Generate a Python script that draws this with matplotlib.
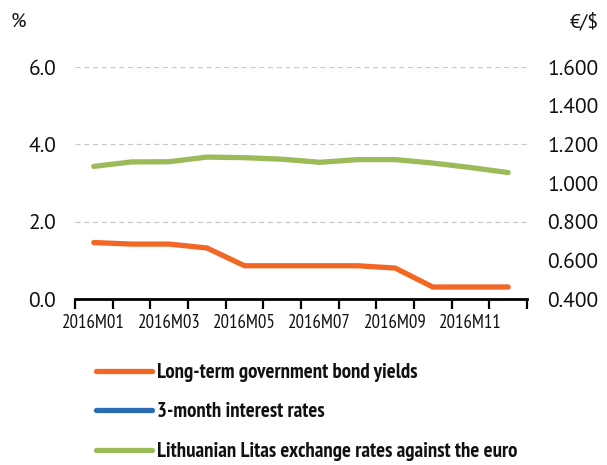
import matplotlib
matplotlib.use("Agg")
import matplotlib.pyplot as plt
from matplotlib import font_manager
import numpy as np

# Monthly series, 2016
months = ["2016M01", "2016M02", "2016M03", "2016M04", "2016M05", "2016M06",
          "2016M07", "2016M08", "2016M09", "2016M10", "2016M11", "2016M12"]
bond_yields = [1.46, 1.42, 1.42, 1.32, 0.86, 0.86, 0.86, 0.86, 0.80, 0.31, 0.31, 0.31]
rates_3m = [np.nan] * 12
exchange_rate = [1.086, 1.109, 1.110, 1.134, 1.131, 1.123, 1.107, 1.121, 1.121, 1.103, 1.080, 1.054]

left_ticks = [0.0, 2.0, 4.0, 6.0]
right_ticks = [0.4, 0.6, 0.8, 1.0, 1.2, 1.4, 1.6]

series_labels = ["Long-term government bond yields",
                 "3-month interest rates",
                 "Lithuanian Litas exchange rates against the euro"]
colors = ["#f26726", "#2a6db5", "#9bbb59"]

installed = {f.name for f in font_manager.fontManager.ttflist}


def pick(*candidates):
    for c in candidates:
        if c in installed:
            return c
    return "DejaVu Sans"


narrow = pick("PT Sans Narrow", "Fira Sans Condensed", "Roboto Condensed", "Liberation Sans Narrow")
regular = pick("PT Sans", "Open Sans", "Source Sans Pro")
plt.rcParams["font.family"] = [regular, "DejaVu Sans"]
plt.rcParams["text.color"] = "#111111"

fig = plt.figure(figsize=(6.07, 4.65), dpi=100)
ax = fig.add_axes([75 / 607, 1 - 299 / 465, 452 / 607, 232 / 465])
ax2 = ax.twinx()

x = np.arange(len(months))
l1, = ax.plot(x, bond_yields, color=colors[0], lw=3.8, solid_capstyle="round", zorder=3)
l2, = ax.plot(x, rates_3m, color=colors[1], lw=3.8, solid_capstyle="round", zorder=3)
l3, = ax2.plot(x, exchange_rate, color=colors[2], lw=3.8, solid_capstyle="round", zorder=3)

ax.set_xlim(-0.5, len(months) - 0.5)
ax.set_ylim(0, 6)
ax2.set_ylim(0.4, 1.6)

tick_font = {"size": 15.5}

# Left axis
ax.set_yticks(left_ticks)
ax.set_yticklabels([f"{v:.1f}" for v in left_ticks], fontdict=tick_font)
ax.tick_params(axis="y", length=0, pad=13.5, labelcolor="#111111")
for v in left_ticks[1:]:
    ax.axhline(v, color="#c8c8c8", lw=0.9, ls=(0, (4, 3)), zorder=1)

# Right axis
ax2.set_yticks(right_ticks)
ax2.set_yticklabels([f"{v:.3f}" for v in right_ticks], fontdict=tick_font)
ax2.tick_params(axis="y", length=0, pad=14.5, labelcolor="#111111")

# Category axis: tick marks at bin edges, labels on every other month
ax.set_xticks(np.arange(-0.5, len(months)), minor=False)
ax.set_xticklabels([])
ax.tick_params(axis="x", which="major", length=7, width=1.6, color="black", direction="out")
ax.set_xticks(x[::2], minor=True)
ax.set_xticklabels(months[::2], minor=True, fontsize=13.5, family=narrow)
ax.tick_params(axis="x", which="minor", length=0, pad=11, labelcolor="#111111")

for a in (ax, ax2):
    for side in ("top", "left", "right"):
        a.spines[side].set_visible(False)
ax2.spines["bottom"].set_visible(False)
ax.spines["bottom"].set_linewidth(2)

fig.text(11 / 607, 1 - 22 / 465, "%", fontsize=14.5, va="center", ha="left")
fig.text(599 / 607, 1 - 22 / 465, "€/$", fontsize=14.5, va="center", ha="right")

fig.legend([l1, l2, l3], series_labels, loc="upper left",
           bbox_to_anchor=(96 / 607, 1 - 363 / 465), frameon=False,
           prop={"family": narrow, "weight": "bold", "size": 15},
           handlelength=2.7, handletextpad=0.22, labelspacing=0.98,
           borderpad=0, borderaxespad=0)

fig.savefig("out.png", dpi=100)
